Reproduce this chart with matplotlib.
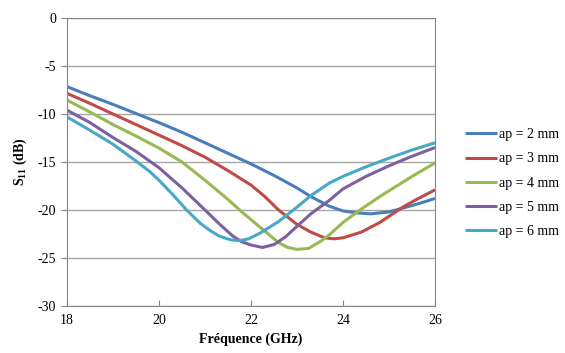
import numpy as np
import matplotlib
matplotlib.use('Agg')
import matplotlib.pyplot as plt

plt.rcParams['font.family'] = ['Liberation Serif', 'DejaVu Serif']
plt.rcParams['axes.unicode_minus'] = False
plt.rcParams['mathtext.fontset'] = 'custom'
plt.rcParams['mathtext.rm'] = 'Liberation Serif'
plt.rcParams['mathtext.bf'] = 'Liberation Serif:bold'

# S11 readings (GHz, dB) for each aperture size
f_ap2 = [18, 18.5, 19, 19.5, 20, 20.5, 21, 21.5, 22, 22.5, 23, 23.3, 23.7, 24, 24.3, 24.6, 25, 25.3, 25.6, 26]
s_ap2 = [-7.15, -8.1, -9.0, -9.95, -10.9, -11.9, -13.0, -14.1, -15.2, -16.4, -17.7, -18.6, -19.6, -20.1, -20.3, -20.4, -20.2, -19.8, -19.4, -18.8]

f_ap3 = [18, 18.5, 19, 19.5, 20, 20.5, 21, 21.5, 22, 22.3, 22.6, 23, 23.3, 23.6, 23.8, 24, 24.2, 24.4, 24.8, 25.3, 25.6, 26]
s_ap3 = [-7.85, -8.9, -10.0, -11.1, -12.2, -13.3, -14.5, -15.9, -17.4, -18.6, -20.0, -21.5, -22.3, -22.9, -23.0, -22.9, -22.6, -22.3, -21.3, -19.7, -18.9, -17.9]

f_ap4 = [18, 18.5, 19, 19.5, 20, 20.5, 21, 21.5, 21.8, 22.1, 22.4, 22.6, 22.8, 23.0, 23.25, 23.5, 23.7, 24.0, 24.4, 24.8, 25.2, 25.5, 26]
s_ap4 = [-8.55, -9.8, -11.1, -12.3, -13.55, -15.0, -16.9, -18.9, -20.2, -21.4, -22.6, -23.4, -23.9, -24.1, -24.0, -23.3, -22.6, -21.3, -19.9, -18.6, -17.4, -16.5, -15.1]

f_ap5 = [18, 18.5, 19, 19.5, 20, 20.5, 21, 21.3, 21.6, 21.8, 22.0, 22.25, 22.5, 22.75, 23, 23.3, 23.7, 24, 24.5, 25, 25.5, 26]
s_ap5 = [-9.6, -10.9, -12.45, -13.9, -15.6, -17.7, -20.0, -21.4, -22.7, -23.3, -23.65, -23.9, -23.6, -22.8, -21.7, -20.4, -19.0, -17.8, -16.5, -15.4, -14.4, -13.5]

f_ap6 = [18, 18.5, 19, 19.5, 19.8, 20, 20.3, 20.6, 20.9, 21.1, 21.3, 21.55, 21.75, 21.95, 22.2, 22.6, 23, 23.3, 23.7, 24, 24.5, 25, 25.5, 26]
s_ap6 = [-10.3, -11.7, -13.15, -14.9, -16.0, -16.9, -18.4, -20.0, -21.4, -22.1, -22.7, -23.1, -23.2, -23.0, -22.4, -21.2, -19.7, -18.5, -17.2, -16.5, -15.5, -14.6, -13.75, -13.0]

labels = ['ap = 2 mm', 'ap = 3 mm', 'ap = 4 mm', 'ap = 5 mm', 'ap = 6 mm']
colors = ['#4A7EBB', '#BE4B48', '#98B954', '#7D60A0', '#46AAC5']

fig = plt.figure(figsize=(5.65, 3.53), dpi=100)
ax = fig.add_axes([67 / 565, 47 / 353, 368 / 565, 288 / 353])

series = [(f_ap2, s_ap2), (f_ap3, s_ap3), (f_ap4, s_ap4), (f_ap5, s_ap5), (f_ap6, s_ap6)]
for (f, s), lab, c in zip(series, labels, colors):
    ax.plot(f, s, color=c, lw=2.2, label=lab, solid_capstyle='butt')

ax.set_xlim(18, 26)
ax.set_ylim(-30, 0)
ax.set_xticks([18, 20, 22, 24, 26])
ax.set_yticks(np.arange(-30, 1, 5))
ax.yaxis.grid(True, color='#A6A6A6', lw=1)
ax.set_axisbelow(True)
for sp in ax.spines.values():
    sp.set_color('#868686')
ax.tick_params(axis='x', direction='in', length=4, color='#868686', labelsize=10, pad=6)
ax.tick_params(axis='y', direction='out', length=4, color='#868686', labelsize=10, pad=4)

ax.set_xlabel('Fréquence (GHz)', fontsize=10, fontweight='bold', labelpad=4)
ax.set_ylabel(r'$\mathbf{S_{11}}$ (dB)', fontsize=10, fontweight='bold', labelpad=6)

ax.legend(loc='center left', bbox_to_anchor=(1.082, 0.427), frameon=False,
          fontsize=10, handlelength=2.3, handletextpad=0.15, labelspacing=0.8,
          borderpad=0, borderaxespad=0)

plt.savefig('out.png', dpi=100)
